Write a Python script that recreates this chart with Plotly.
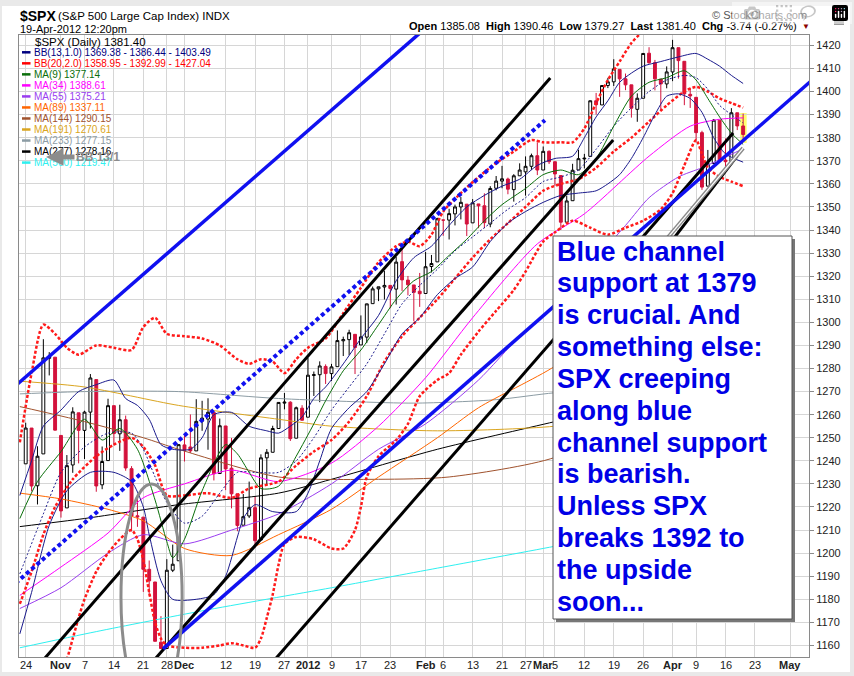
import plotly.graph_objects as go

# ---- daily candles, trading-day index 0 = 24 Oct 2011 ... 122 = 19 Apr 2012 ----
prev_close = 1238.3  # close of 21 Oct 2011

opens = [1238.7, 1254.2, 1229.2, 1243.0, 1284.4, 1284.9, 1251.0, 1219.6, 1238.2, 1260.8,
         1253.2, 1261.1, 1275.2, 1229.6, 1240.1, 1263.9, 1251.7, 1257.8, 1236.6, 1216.2,
         1215.6, 1193.0, 1187.5, 1161.4, 1158.7, 1192.6, 1196.7, 1246.9, 1246.0, 1244.3,
         1257.2, 1258.1, 1260.9, 1234.5, 1255.1, 1236.8, 1225.7, 1212.1, 1216.1, 1219.7,
         1205.7, 1241.3, 1243.7, 1254.0, 1265.0, 1265.4, 1249.8, 1262.8, 1258.9, 1277.0,
         1277.3, 1280.9, 1277.8, 1280.8, 1292.0, 1292.5, 1294.8, 1290.2, 1293.6, 1308.1,
         1314.5, 1315.3, 1316.0, 1314.4, 1326.3, 1318.3, 1316.2, 1313.5, 1312.5, 1324.2,
         1326.2, 1344.3, 1344.3, 1347.0, 1350.0, 1351.2, 1343.1, 1351.3, 1350.5, 1342.6,
         1358.1, 1361.2, 1362.1, 1357.5, 1363.5, 1365.2, 1367.6, 1372.2, 1366.0, 1374.1,
         1369.6, 1363.6, 1343.4, 1352.7, 1366.0, 1370.8, 1371.9, 1396.0, 1394.2, 1402.6,
         1404.2, 1409.6, 1405.5, 1402.9, 1392.3, 1397.1, 1416.6, 1412.5, 1405.4, 1403.3,
         1408.5, 1419.0, 1413.1, 1398.8, 1397.5, 1382.2, 1359.0, 1368.8, 1387.6, 1370.3,
         1369.6, 1390.8, 1385.08]
highs = [1256.5, 1254.2, 1246.3, 1292.7, 1287.1, 1284.9, 1251.0, 1242.5, 1263.2, 1260.8,
         1261.7, 1277.6, 1275.2, 1246.2, 1266.9, 1263.9, 1264.3, 1259.6, 1237.7, 1223.5,
         1215.6, 1196.8, 1187.5, 1172.7, 1197.4, 1203.7, 1247.1, 1251.1, 1260.1, 1266.7,
         1266.0, 1267.1, 1260.9, 1258.3, 1255.1, 1249.9, 1225.7, 1225.6, 1231.0, 1224.6,
         1242.8, 1245.1, 1255.2, 1265.4, 1269.4, 1265.8, 1263.5, 1264.1, 1284.6, 1278.7,
         1283.1, 1281.8, 1282.0, 1296.5, 1293.8, 1296.8, 1294.8, 1303.0, 1308.1, 1315.5,
         1315.4, 1322.3, 1316.0, 1328.3, 1333.5, 1320.1, 1316.2, 1321.4, 1330.5, 1329.2,
         1345.3, 1344.4, 1349.2, 1351.0, 1354.3, 1351.2, 1353.4, 1351.3, 1355.9, 1359.0,
         1363.4, 1367.8, 1362.7, 1364.2, 1368.9, 1371.9, 1373.1, 1378.0, 1376.2, 1374.5,
         1369.6, 1363.6, 1354.9, 1368.7, 1374.8, 1373.0, 1396.1, 1399.4, 1402.6, 1405.9,
         1414.0, 1409.6, 1407.8, 1402.9, 1399.2, 1416.6, 1419.2, 1413.7, 1405.4, 1410.9,
         1422.4, 1419.0, 1413.1, 1401.6, 1397.5, 1383.0, 1374.7, 1388.1, 1387.6, 1379.7,
         1392.8, 1390.8, 1390.46]
lows = [1238.7, 1226.8, 1221.1, 1243.0, 1277.0, 1253.2, 1215.4, 1219.6, 1234.8, 1238.9,
        1240.8, 1254.0, 1226.6, 1227.7, 1240.1, 1246.7, 1244.3, 1235.7, 1209.4, 1211.4,
        1183.2, 1181.6, 1161.8, 1158.7, 1158.7, 1191.8, 1196.7, 1239.7, 1243.4, 1244.3,
        1253.0, 1244.8, 1231.5, 1234.5, 1227.3, 1219.4, 1209.5, 1212.1, 1215.2, 1202.4,
        1205.7, 1229.5, 1243.7, 1254.0, 1262.3, 1248.6, 1249.8, 1257.5, 1258.9, 1268.1,
        1265.4, 1273.3, 1274.6, 1280.8, 1285.4, 1285.8, 1277.6, 1290.2, 1291.0, 1308.1,
        1309.2, 1309.9, 1306.1, 1307.7, 1313.6, 1311.7, 1300.5, 1306.7, 1312.5, 1321.6,
        1326.2, 1337.5, 1335.9, 1342.0, 1344.6, 1337.4, 1343.1, 1340.8, 1340.8, 1341.2,
        1357.2, 1358.1, 1355.5, 1352.3, 1363.5, 1354.9, 1366.0, 1363.8, 1366.0, 1368.6,
        1359.1, 1340.0, 1343.4, 1352.7, 1366.0, 1366.7, 1371.9, 1390.0, 1394.2, 1401.5,
        1402.4, 1397.7, 1400.6, 1388.7, 1386.9, 1397.1, 1412.0, 1400.5, 1391.6, 1401.4,
        1404.5, 1405.6, 1394.1, 1392.9, 1378.2, 1357.4, 1359.0, 1368.8, 1369.9, 1365.4,
        1369.6, 1383.3, 1379.27]
closes = [1254.2, 1229.1, 1242.0, 1284.6, 1285.1, 1253.3, 1218.3, 1237.9, 1261.2, 1253.2,
          1261.1, 1275.9, 1229.1, 1239.7, 1263.9, 1251.8, 1257.8, 1236.9, 1216.1, 1215.7,
          1193.0, 1188.0, 1161.8, 1158.7, 1192.6, 1195.2, 1247.0, 1244.6, 1244.3, 1257.1,
          1258.5, 1261.0, 1234.4, 1255.2, 1236.5, 1225.7, 1212.0, 1215.8, 1219.7, 1205.4,
          1241.3, 1243.7, 1254.0, 1265.3, 1265.4, 1249.6, 1263.0, 1257.6, 1277.1, 1277.3,
          1281.1, 1277.8, 1280.7, 1292.1, 1292.5, 1295.5, 1289.1, 1293.7, 1308.0, 1314.5,
          1315.4, 1316.0, 1314.7, 1326.1, 1318.4, 1316.3, 1313.0, 1312.4, 1324.1, 1325.5,
          1344.9, 1344.3, 1347.1, 1350.0, 1352.0, 1342.6, 1351.8, 1350.5, 1343.2, 1358.0,
          1361.2, 1362.2, 1357.7, 1363.5, 1366.0, 1367.6, 1372.2, 1366.0, 1374.1, 1369.6,
          1364.3, 1343.4, 1352.6, 1365.9, 1370.9, 1371.1, 1396.0, 1394.3, 1402.6, 1404.2,
          1409.8, 1405.5, 1402.9, 1392.8, 1397.1, 1416.5, 1412.5, 1405.5, 1403.3, 1408.5,
          1419.0, 1413.4, 1399.0, 1398.1, 1382.2, 1358.6, 1368.7, 1387.6, 1370.3, 1369.6,
          1390.8, 1385.1, 1381.40]

# ---- overlays (x = trading-day index) ----
ma9_x = [-1, 2, 6, 10, 13, 16, 19, 22, 24, 25, 27, 30, 34, 36, 38, 40, 43, 46, 49, 51,
         54, 57, 60, 63, 66, 69, 72, 75, 78, 81, 85, 88, 91, 94, 97, 100, 103, 106, 109, 112,
         114, 116, 118, 120, 122]
ma9_y = [1215, 1231, 1244, 1258, 1249, 1254, 1245, 1223, 1205, 1198, 1206, 1227, 1247, 1243, 1235,
         1228, 1229, 1242, 1256, 1266, 1279, 1288, 1299, 1310, 1318, 1322, 1329, 1336, 1344, 1351,
         1358, 1364, 1366, 1364, 1371, 1385, 1398, 1404, 1406, 1409, 1405, 1397, 1389, 1382, 1377.1]

bb13_up_x = [-1, 1, 3, 6, 9, 12, 15, 17, 19, 21, 23, 25, 28, 30, 32, 35, 38, 41, 43, 45,
             47, 49, 51, 54, 57, 60, 63, 66, 69, 72, 75, 78, 81, 84, 87, 90, 93, 95, 97, 99,
             101, 103, 105, 108, 111, 114, 116, 118, 120, 122]
bb13_up_y = [1225, 1240, 1255, 1262, 1270, 1273, 1275, 1267, 1264, 1258, 1247, 1245, 1245, 1250, 1260,
             1261, 1255, 1253, 1252, 1255, 1259, 1267, 1272, 1282, 1293, 1303, 1318, 1328, 1333, 1342,
             1350, 1355, 1359, 1362, 1368, 1371, 1372, 1380, 1389, 1396, 1404, 1408, 1411, 1413, 1415,
             1416.5, 1414, 1411, 1407, 1403.5]
bb13_lo_x = [-1, 1, 4, 7, 11, 15, 18, 20, 21, 23, 25, 29, 32, 34, 36, 37, 39, 42, 46, 48,
             50, 52, 55, 58, 61, 64, 67, 70, 73, 76, 79, 82, 85, 88, 91, 94, 97, 99, 101, 103,
             105, 107, 109, 111, 113, 115, 117, 119, 122]
bb13_lo_y = [1165, 1183, 1212, 1227, 1235, 1235, 1231, 1220, 1208, 1188, 1180, 1180, 1182, 1190, 1207,
             1215, 1221, 1218, 1218, 1226, 1240, 1254, 1263, 1270, 1282, 1295, 1302, 1312, 1319, 1324,
             1335, 1343, 1348, 1352, 1355, 1356, 1357, 1360, 1364, 1371, 1380, 1390, 1398, 1399, 1397,
             1391, 1380, 1373, 1369.4]
bb13_mid_x = [-1, 3, 6, 10, 14, 18, 20, 22, 24, 27, 30, 33, 36, 39, 43, 46, 49, 52, 55, 58,
              61, 64, 67, 70, 73, 76, 79, 82, 85, 88, 91, 94, 97, 100, 103, 106, 109, 112, 114, 116,
              118, 120, 122]
bb13_mid_y = [1191, 1217, 1235, 1246, 1252, 1252, 1245, 1233, 1222, 1213, 1216, 1226, 1235, 1235, 1235,
              1240, 1250, 1262, 1272, 1282, 1295, 1308, 1316, 1323, 1331, 1337, 1343, 1349, 1354, 1361,
              1363, 1366, 1375, 1385, 1393, 1400, 1405, 1407, 1406, 1401, 1394, 1390, 1386.4]

bb20_up_x = [-1, 1, 3, 5, 7, 9, 12, 15, 18, 20, 22, 24, 27, 30, 33, 36, 38, 40, 42, 44,
             46, 48, 51, 54, 57, 60, 63, 65, 67, 69, 71, 74, 77, 80, 83, 86, 88, 91, 93, 95,
             97, 99, 101, 103, 105, 108, 111, 114, 117, 120, 122]
bb20_up_y = [1248, 1278, 1299, 1295, 1289, 1286, 1290, 1289, 1288, 1298, 1302, 1295, 1294, 1293, 1290,
             1284, 1282, 1284, 1283, 1278, 1284, 1289, 1293, 1304, 1315, 1326, 1333, 1335, 1333, 1338,
             1348, 1356, 1363, 1369, 1374, 1379, 1378, 1378, 1378, 1384, 1395, 1405, 1413, 1421, 1426,
             1429, 1430, 1430, 1429, 1428, 1427]
bb20_mid_x = [-1, 1, 3, 5, 8, 12, 15, 18, 20, 22, 24, 27, 31, 35, 38, 43, 46, 49, 52, 55,
              58, 61, 64, 67, 70, 73, 76, 79, 82, 85, 88, 91, 94, 97, 100, 103, 106, 109, 112, 114,
              116, 118, 120, 122]
bb20_mid_y = [1178, 1192, 1208, 1220, 1232, 1242, 1247, 1250, 1246, 1238, 1225, 1225, 1226, 1224, 1228,
              1231, 1238, 1244, 1249, 1257, 1268, 1283, 1294, 1302, 1310, 1319, 1328, 1336, 1343, 1350,
              1357, 1360, 1362, 1367, 1374, 1380, 1387, 1394, 1400, 1402, 1400, 1397, 1395, 1393]
bb20_lo_x = [6, 7, 8, 9, 10, 12, 14, 16, 18, 19, 20, 21, 22, 23, 24, 27, 30, 33, 35, 37,
             39, 40, 41, 42, 43, 44, 46, 49, 52, 54, 56, 57, 58, 60, 63, 65, 67, 70, 72, 74,
             77, 80, 83, 85, 88, 90, 93, 96, 99, 102, 105, 108, 110, 112, 114, 115, 116, 118, 120, 122]
bb20_lo_y = [1148, 1154, 1163, 1172, 1180, 1192, 1200, 1206, 1210, 1206, 1197, 1183, 1170, 1163, 1160,
             1159, 1159, 1160, 1161, 1160, 1159, 1163, 1172, 1182, 1195, 1204, 1207, 1206, 1202, 1202,
             1210, 1220, 1233, 1242, 1249, 1256, 1268, 1275, 1278, 1286, 1296, 1305, 1314, 1322, 1335,
             1339, 1344, 1341, 1338, 1341, 1344, 1349, 1356, 1368, 1379, 1373, 1367, 1363, 1361, 1359]

ma34_x = [-1, 6, 14, 20, 27, 35, 43, 52, 60, 68, 76, 87, 95, 106, 113, 118, 122]
ma34_y = [1181.7, 1194, 1208.7, 1224, 1230, 1236, 1231, 1239, 1255, 1276, 1302, 1334, 1347, 1372,
          1385, 1388, 1388.6]
ma55_x = [-1, 6, 14, 20, 27, 35, 43, 52, 60, 68, 77, 84, 90, 102, 106, 111, 115, 122]
ma55_y = [1176, 1185, 1200, 1208, 1204, 1210, 1217, 1230, 1245, 1256, 1275, 1294, 1308, 1342, 1354,
          1363, 1367, 1375.2]
ma89_x = [-1, 6, 14, 20, 27, 35, 43, 52, 60, 70, 77, 90, 105, 122]
ma89_y = [1226, 1223.5, 1219, 1214, 1202, 1199, 1208, 1219, 1233, 1250, 1263, 1281, 1310, 1337.1]
ma144_x = [-1, 10, 20, 26, 43, 60, 72, 90, 105, 122]
ma144_y = [1263.5, 1257, 1250, 1245, 1233, 1232, 1233, 1241.5, 1262, 1290.2]
ma191_x = [-1, 10, 26, 43, 52, 70, 90, 110, 122]
ma191_y = [1274.5, 1272, 1264, 1258, 1255, 1253, 1255, 1263, 1270.6]
ma233_x = [-1, 10, 26, 43, 66, 80, 90, 110, 122]
ma233_y = [1269, 1270, 1270, 1267, 1265, 1266.5, 1269.5, 1273, 1277.2]
ma277_x = [-1, 10, 26, 43, 52, 70, 90, 110, 122]
ma277_y = [1211.5, 1215, 1221, 1226, 1232, 1245, 1257, 1269, 1278.2]
ma500_x = [-1, 12, 30, 52, 70, 90, 110, 122]
ma500_y = [1159, 1166, 1175, 1185, 1193.5, 1203, 1213, 1219.5]

# ---- hand-drawn trend lines (index, price) ----
blue_hi_x, blue_hi_y = [-3.9, 72.5], [1267.7, 1437.5]
blue_lo_x, blue_lo_y = [23.35, 140.9], [1158.5, 1421.0]
blue_dot_x, blue_dot_y = [-4.4, 88.3], [1181.0, 1387.6]
black1_x, black1_y = [1.07, 89.2], [1148.1, 1405.9]
black2_x, black2_y = [19.9, 99.9], [1148.1, 1379.0]
black3_x, black3_y = [40.4, 120.3], [1148.1, 1382.0]
black4_x, black4_y = [106.0, 121.0], [1322.5, 1372.1]
gray_x, gray_y = [104.0, 122.0], [1321.0, 1375.5]
ellipse_x, ellipse_y = [16.2, 26.6], [1132.0, 1230.0]
last_box_x, last_box_y = [121.5, 122.6], [1377.7, 1390.7]

tick_pos = [0, 6, 10, 15, 20, 24, 27, 34, 39, 44, 48, 52, 57, 62, 68, 71, 76, 81, 85,
            88, 90, 95, 100, 105, 110, 114, 119, 124, 130]
tick_text = ["24", "<b>Nov</b>", "7", "14", "21", "28", "<b>Dec</b>", "12", "19", "27",
             "<b>2012</b>", "9", "17", "23", "<b>Feb</b>", "6", "13", "21", "27",
             "<b>Mar</b>", "5", "12", "19", "26", "<b>Apr</b>", "9", "16", "23", "<b>May</b>"]
price_ticks = list(range(1160, 1421, 10))

legend_labels = ["BB(13,1.0) 1369.38 - 1386.44 - 1403.49", "BB(20,2.0) 1358.95 - 1392.99 - 1427.04",
                 "MA(9) 1377.14", "MA(34) 1388.61", "MA(55) 1375.21", "MA(89) 1337.11",
                 "MA(144) 1290.15", "MA(191) 1270.61", "MA(233) 1277.15", "MA(277) 1278.16",
                 "MA(500) 1219.47"]
legend_colors = ["#000080", "#ff0000", "#0a6e0a", "#ff00ff", "#9a3df0", "#ff6600",
                 "#a0522d", "#daa520", "#8c9ca4", "#000000", "#2ef0f0"]

note_lines = ["Blue channel", "support at 1379", "is crucial. And", "something else:",
              "SPX creeping", "along blue", "channel support", "is bearish.", "Unless SPX",
              "breaks 1392 to", "the upside", "soon..."]

FONT = "Liberation Sans"
RED = "#d3123c"
W, H = 854, 676
L, R, T, B = 19, 809, 35, 657   # plot area in pixels


def px(x):
    return (x - L) / (R - L)


def py(y):
    return (B - y) / (B - T)


fig = go.Figure()


def add_line(xs, ys, color, width=1, dash=None, shape="spline"):
    fig.add_trace(go.Scatter(x=xs, y=ys, mode="lines", hoverinfo="skip", showlegend=False,
                             line=dict(color=color, width=width, dash=dash, shape=shape,
                                       smoothing=0.7 if shape == "spline" else None)))


# slow moving averages
add_line(ma500_x, ma500_y, "#2ef0f0")
add_line(ma277_x, ma277_y, "#000000")
add_line(ma233_x, ma233_y, "#8c9ca4")
add_line(ma191_x, ma191_y, "#daa520")
add_line(ma144_x, ma144_y, "#a0522d")
add_line(ma89_x, ma89_y, "#ff6600")
add_line(ma55_x, ma55_y, "#9a3df0")
add_line(ma34_x, ma34_y, "#ff00ff")
# bollinger bands
add_line(bb20_up_x, bb20_up_y, "#ff1a1a", 2.5, "3px,2px")
add_line(bb20_mid_x, bb20_mid_y, "#ff1a1a", 2.5, "3px,2px")
add_line(bb20_lo_x, bb20_lo_y, "#ff1a1a", 2.5, "3px,2px")
add_line(bb13_up_x, bb13_up_y, "#1a1a8c")
add_line(bb13_lo_x, bb13_lo_y, "#1a1a8c")
add_line(bb13_mid_x, bb13_mid_y, "#1a1a8c", 1, "2px,2px")
add_line(ma9_x, ma9_y, "#0a6e0a")

# candles: red when the close is below the previous close, hollow when close > open
days = list(range(len(closes)))
prev = [prev_close] + closes[:-1]
for color, ids in [("#000000", [i for i in days if closes[i] >= prev[i]]),
                   (RED, [i for i in days if closes[i] < prev[i]])]:
    fig.add_trace(go.Candlestick(
        x=ids, open=[opens[i] for i in ids], high=[highs[i] for i in ids],
        low=[lows[i] for i in ids], close=[closes[i] for i in ids],
        increasing=dict(line=dict(color=color, width=1), fillcolor="white"),
        decreasing=dict(line=dict(color=color, width=1), fillcolor=color),
        whiskerwidth=0, hoverinfo="skip", showlegend=False))

# trend lines
for xs, ys in [(black1_x, black1_y), (black2_x, black2_y), (black3_x, black3_y), (black4_x, black4_y)]:
    add_line(xs, ys, "#000000", 3, shape="linear")
add_line(gray_x, gray_y, "#8a8a8a", 4, shape="linear")
add_line(gray_x, gray_y, "#ffffff", 1.3, shape="linear")
add_line(blue_hi_x, blue_hi_y, "#1010f0", 3.5, shape="linear")
add_line(blue_lo_x, blue_lo_y, "#1010f0", 3.5, shape="linear")
add_line(blue_dot_x, blue_dot_y, "#1010f0", 4, "4px,3px", shape="linear")

# highlight of the last bar and the circled low
fig.add_shape(type="rect", xref="x", yref="y", x0=last_box_x[0], x1=last_box_x[1],
              y0=last_box_y[0], y1=last_box_y[1], fillcolor="#ffff70", line_width=0, layer="below")
fig.add_shape(type="circle", xref="x", yref="y", x0=ellipse_x[0], x1=ellipse_x[1],
              y0=ellipse_y[0], y1=ellipse_y[1], line=dict(color="#8c8c8c", width=3))

# light grey frame of the page
for x0, x1, y0, y1 in [(0, W, 0, 6), (0, W, 672, H), (850, W, 0, H), (0, 2, 0, H)]:
    fig.add_shape(type="rect", xref="paper", yref="paper", x0=px(x0), x1=px(x1),
                  y0=py(y1), y1=py(y0), fillcolor="#e9e9e9", line_width=0, layer="below")
# trash icon
fig.add_shape(type="rect", xref="paper", yref="paper", x0=px(834), x1=px(844), y0=py(25), y1=py(12),
              fillcolor="#9a9a9a", line_width=0)
fig.add_shape(type="rect", xref="paper", yref="paper", x0=px(832), x1=px(846), y0=py(11), y1=py(9),
              fillcolor="#9a9a9a", line_width=0)

# comment box with shadow
fig.add_shape(type="rect", xref="paper", yref="paper", x0=px(556), x1=px(795), y0=py(622), y1=py(239),
              fillcolor="#777777", line_width=0)
fig.add_shape(type="rect", xref="paper", yref="paper", x0=px(553), x1=px(792), y0=py(619), y1=py(236),
              fillcolor="white", line=dict(color="#555555", width=1))
for i, line in enumerate(note_lines):
    fig.add_annotation(xref="paper", yref="paper", x=px(555), y=py(251.5 + 31.85 * i), text="<b>%s</b>" % line,
                       showarrow=False, xanchor="left", yanchor="middle",
                       font=dict(family=FONT, size=27, color="#0000e6"))


def label(x, y, text, size, color="#000000", anchor="left"):
    fig.add_annotation(xref="paper", yref="paper", x=px(x), y=py(y), text=text, showarrow=False,
                       xanchor=anchor, yanchor="middle", borderpad=0,
                       font=dict(family=FONT, size=size, color=color))


# date labels under the plot, placed on the x axis scale
for pos, txt in zip(tick_pos, tick_text):
    fig.add_annotation(xref="x", yref="paper", x=pos, y=py(664.5), text=txt, showarrow=False,
                       xanchor="center", yanchor="middle", borderpad=0,
                       font=dict(family=FONT, size=11, color="#222222"))

# header
label(19, 16, "<b>$SPX</b>", 14)
label(57, 16, "(S&P 500 Large Cap Index) INDX", 11.5)
label(19, 29, "19-Apr-2012 12:20pm", 11)
label(808, 15, "© StockCharts.com", 11, "#555555", "right")
label(798, 26, "<b>Open</b> 1385.08&nbsp;&nbsp;<b>High</b> 1390.46&nbsp;&nbsp;<b>Low</b> 1379.27"
               "&nbsp;&nbsp;<b>Last</b> 1381.40&nbsp;&nbsp;<b>Chg</b> -3.74 (-0.27%)", 11, "#000000", "right")
label(801, 26, "▼", 8, "#8b0000")

# legend block inside the plot
label(34, 41.7, "$SPX (Daily) 1381.40", 11.5)
for k, (txt, col) in enumerate(zip(legend_labels, legend_colors)):
    yk = 52.3 + 11.03 * k
    fig.add_shape(type="line", xref="paper", yref="paper", x0=px(22), x1=px(30.5), y0=py(yk), y1=py(yk),
                  line=dict(color=col, width=2.5))
    label(32.5, yk, txt, 10, col)

# grey arrow note
fig.add_annotation(xref="paper", yref="paper", x=px(46), y=py(157), ax=52, ay=0, text="<b>BB 13/1</b>",
                   showarrow=True, arrowhead=2, arrowsize=0.7, arrowwidth=5, arrowcolor="#8c8c8c",
                   font=dict(family=FONT, size=12, color="#8c8c8c"))

fig.update_layout(
    width=W, height=H, autosize=False, showlegend=False,
    margin=dict(l=L, r=W - R, t=T, b=H - B),
    paper_bgcolor="white", plot_bgcolor="white",
    font=dict(family=FONT, size=11, color="#222222"),
    xaxis=dict(type="linear", range=[-1.14, 133.2], tickmode="array", tickvals=tick_pos,
               showticklabels=False, showgrid=True, gridcolor="#d6d6d6", gridwidth=1, zeroline=False,
               showline=True, mirror=True, linecolor="#8a8a8a", ticks="",
               automargin=False, rangeslider=dict(visible=False), fixedrange=True),
    yaxis=dict(range=[1155.0, 1424.5], side="right", tickmode="array", tickvals=price_ticks,
               showgrid=True, gridcolor="#d6d6d6", gridwidth=1, zeroline=False, showline=True,
               mirror=True, linecolor="#8a8a8a", ticks="outside", ticklen=4, tickcolor="#8a8a8a",
               tickfont=dict(size=11), automargin=False, fixedrange=True),
)

# the page's default 8px body margin would push the chart off its 854x676 frame
fig.write_html("out.html", post_script="document.body.style.margin='0';")
